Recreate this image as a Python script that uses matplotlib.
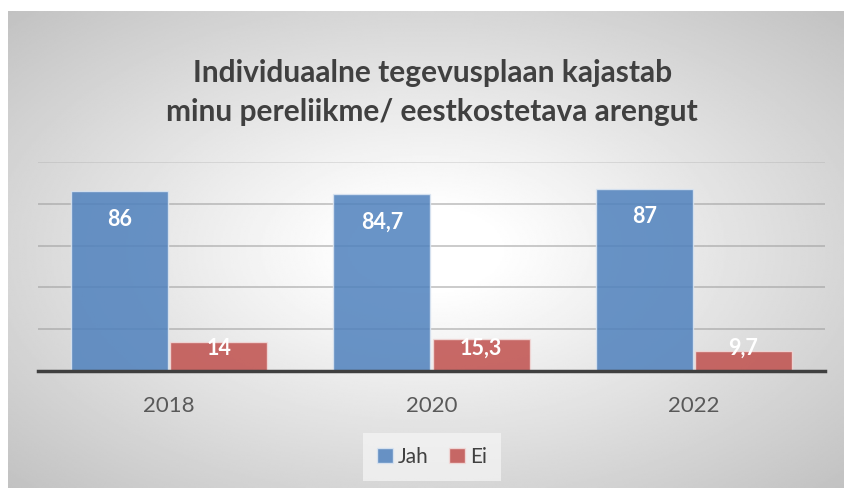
import numpy as np
import matplotlib.pyplot as plt

# data
years = ['2018', '2020', '2022']
jah = [86, 84.7, 87]
ei = [14, 15.3, 9.7]
series_names = ['Jah', 'Ei']
title = 'Individuaalne tegevusplaan kajastab\nminu pereliikme/ eestkostetava arengut'

plt.rcParams['font.family'] = ['Lato', 'DejaVu Sans']

W, H = 844, 488
fig = plt.figure(figsize=(W / 100, H / 100), dpi=100)
fig.patch.set_facecolor('white')

# radial gradient background of the chart area
bg = fig.add_axes([8 / W, 0, 1 - 8 / W, (H - 11) / H], zorder=-5)
yy, xx = np.mgrid[-1:1:300j, -1:1:500j]
r = np.sqrt(xx ** 2 + yy ** 2) / np.sqrt(2)
shade = 1 - 0.24 * np.clip((r - 0.12) / 0.88, 0, 1)
bg.imshow(shade, cmap='gray', vmin=0, vmax=1, aspect='auto', extent=[0, 1, 0, 1])
bg.axis('off')

# plot area
ax = fig.add_axes([38 / W, (H - 371) / H, (825 - 38) / W, (371 - 162) / H])
ax.patch.set_alpha(0)

x = np.arange(len(years))
w = 0.37
b1 = ax.bar(x - w / 2 - 0.004, jah, w, color='#4f81bd', alpha=0.85,
            edgecolor='#dce6f2', linewidth=1, zorder=3)
b2 = ax.bar(x + w / 2 + 0.004, ei, w, color='#c0504d', alpha=0.85,
            edgecolor='#f2dcdb', linewidth=1, zorder=3)

def fmt(v):
    return ('%g' % v).replace('.', ',')

for rect, v in zip(b1, jah):
    ax.annotate(fmt(v), (rect.get_x() + rect.get_width() / 2, v),
                xytext=(0, -20), textcoords='offset points',
                ha='center', va='center', color='white',
                fontsize=15.5, fontweight='bold', zorder=5)
for rect, v in zip(b2, ei):
    ax.annotate(fmt(v), (rect.get_x() + rect.get_width() / 2, 0),
                xytext=(0, 16.5), textcoords='offset points',
                ha='center', va='center', color='white',
                fontsize=15.5, fontweight='bold', zorder=5)

ax.set_xlim(-0.5, 2.5)
ax.set_ylim(0, 100)
ax.set_yticks([20, 40, 60, 80, 100])
ax.yaxis.grid(True, color='#9a9a9a', alpha=0.6, linewidth=1.2, zorder=0)
ax.get_ygridlines()[-1].set_alpha(0.3)
ax.tick_params(axis='y', left=False, labelleft=False)
ax.set_xticks(x)
ax.set_xticklabels(years, fontsize=16, color='#595959')
ax.tick_params(axis='x', length=0, pad=18)
for s in ['top', 'right', 'left']:
    ax.spines[s].set_visible(False)
ax.spines['bottom'].set_color('#3f3f3f')
ax.spines['bottom'].set_linewidth(2.5)
ax.spines['bottom'].set_zorder(4)

fig.text(0.512, (H - 92.5) / H, title, ha='center', va='center',
         fontsize=21.5, fontweight='bold', color='#404040', linespacing=1.52)

leg = fig.legend([b1, b2], series_names, loc='center',
                 bbox_to_anchor=(432 / W, (H - 457) / H), ncol=2,
                 frameon=True, fontsize=15, handlelength=0.75, handleheight=0.75,
                 handletextpad=0.25, columnspacing=1.0, borderpad=0.35)
leg.get_frame().set_facecolor('#f6f6f6')
leg.get_frame().set_edgecolor('none')
leg.get_frame().set_alpha(0.7)
leg.get_frame().set_boxstyle('square', pad=0.3)
for t in leg.get_texts():
    t.set_color('#404040')

fig.savefig('out.png', dpi=100)
